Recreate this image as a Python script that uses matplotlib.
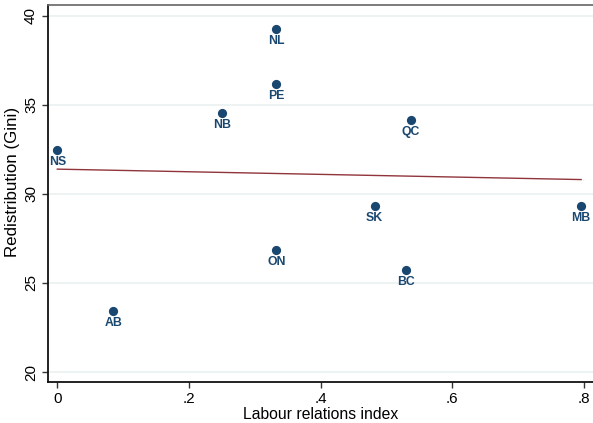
"""
Scatter: labour relations index vs redistribution (Gini), by province, with linear fit.
"""

import matplotlib
matplotlib.use("Agg")
import matplotlib.pyplot as plt
import numpy as np

plt.rcParams["font.family"] = ["Liberation Sans", "DejaVu Sans"]

provinces = ["NS", "AB", "NB", "NL", "PE", "ON", "SK", "BC", "QC", "MB"]
labour_index = [0.0, 0.085, 0.25, 0.333, 0.333, 0.333, 0.482, 0.53, 0.537, 0.796]
gini_redist = [32.46, 23.41, 34.52, 39.25, 36.15, 26.83, 29.33, 25.73, 34.14, 29.33]

x_ticks = [0, 0.2, 0.4, 0.6, 0.8]
x_ticklabels = ["0", ".2", ".4", ".6", ".8"]
y_ticks = [20, 25, 30, 35, 40]

NAVY = "#1a476f"
MAROON = "#90353b"

x = np.array(labour_index)
y = np.array(gini_redist)

# Linear fit
coef = np.polyfit(x, y, 1)
xs = np.array([x.min(), x.max()])
ys = np.polyval(coef, xs)

fig = plt.figure(figsize=(5.93, 4.23), dpi=100)
ax = fig.add_axes([0.0804, 0.0969, 0.9196, 0.8906])

for yt in y_ticks:
    ax.axhline(yt, color="#eaf0f0", linewidth=1.2, zorder=0)

ax.scatter(x, y, s=44, color=NAVY, zorder=3, linewidths=0)
for name, xi, yi in zip(provinces, x, y):
    ax.annotate(name, (xi, yi), xytext=(0, -8.6), textcoords="offset points",
                ha="center", va="center", fontsize=8.8, fontweight="bold",
                color=NAVY, zorder=4)

ax.plot(xs, ys, color=MAROON, linewidth=1.0, zorder=2)

ax.set_xlim(-0.0146, 0.814)
ax.set_ylim(19.44, 40.58)
ax.set_xticks(x_ticks)
ax.set_xticklabels(x_ticklabels)
ax.set_yticks(y_ticks)
ax.set_yticklabels([str(v) for v in y_ticks], rotation=90, va="center")

ax.tick_params(direction="out", length=4, width=1, color="#333333",
               labelsize=11, pad=3)

ax.spines["right"].set_visible(False)
ax.spines["top"].set_color("#666666")
ax.spines["top"].set_linewidth(1.2)
for s in ("left", "bottom"):
    ax.spines[s].set_color("#111111")
    ax.spines[s].set_linewidth(1.3)

ax.set_xlabel("Labour relations index", fontsize=11.3, labelpad=1)
ax.set_ylabel("Redistribution (Gini)", fontsize=12.2)
ax.yaxis.set_label_coords(-0.05, 0.53)

plt.savefig("out.png", dpi=100)
